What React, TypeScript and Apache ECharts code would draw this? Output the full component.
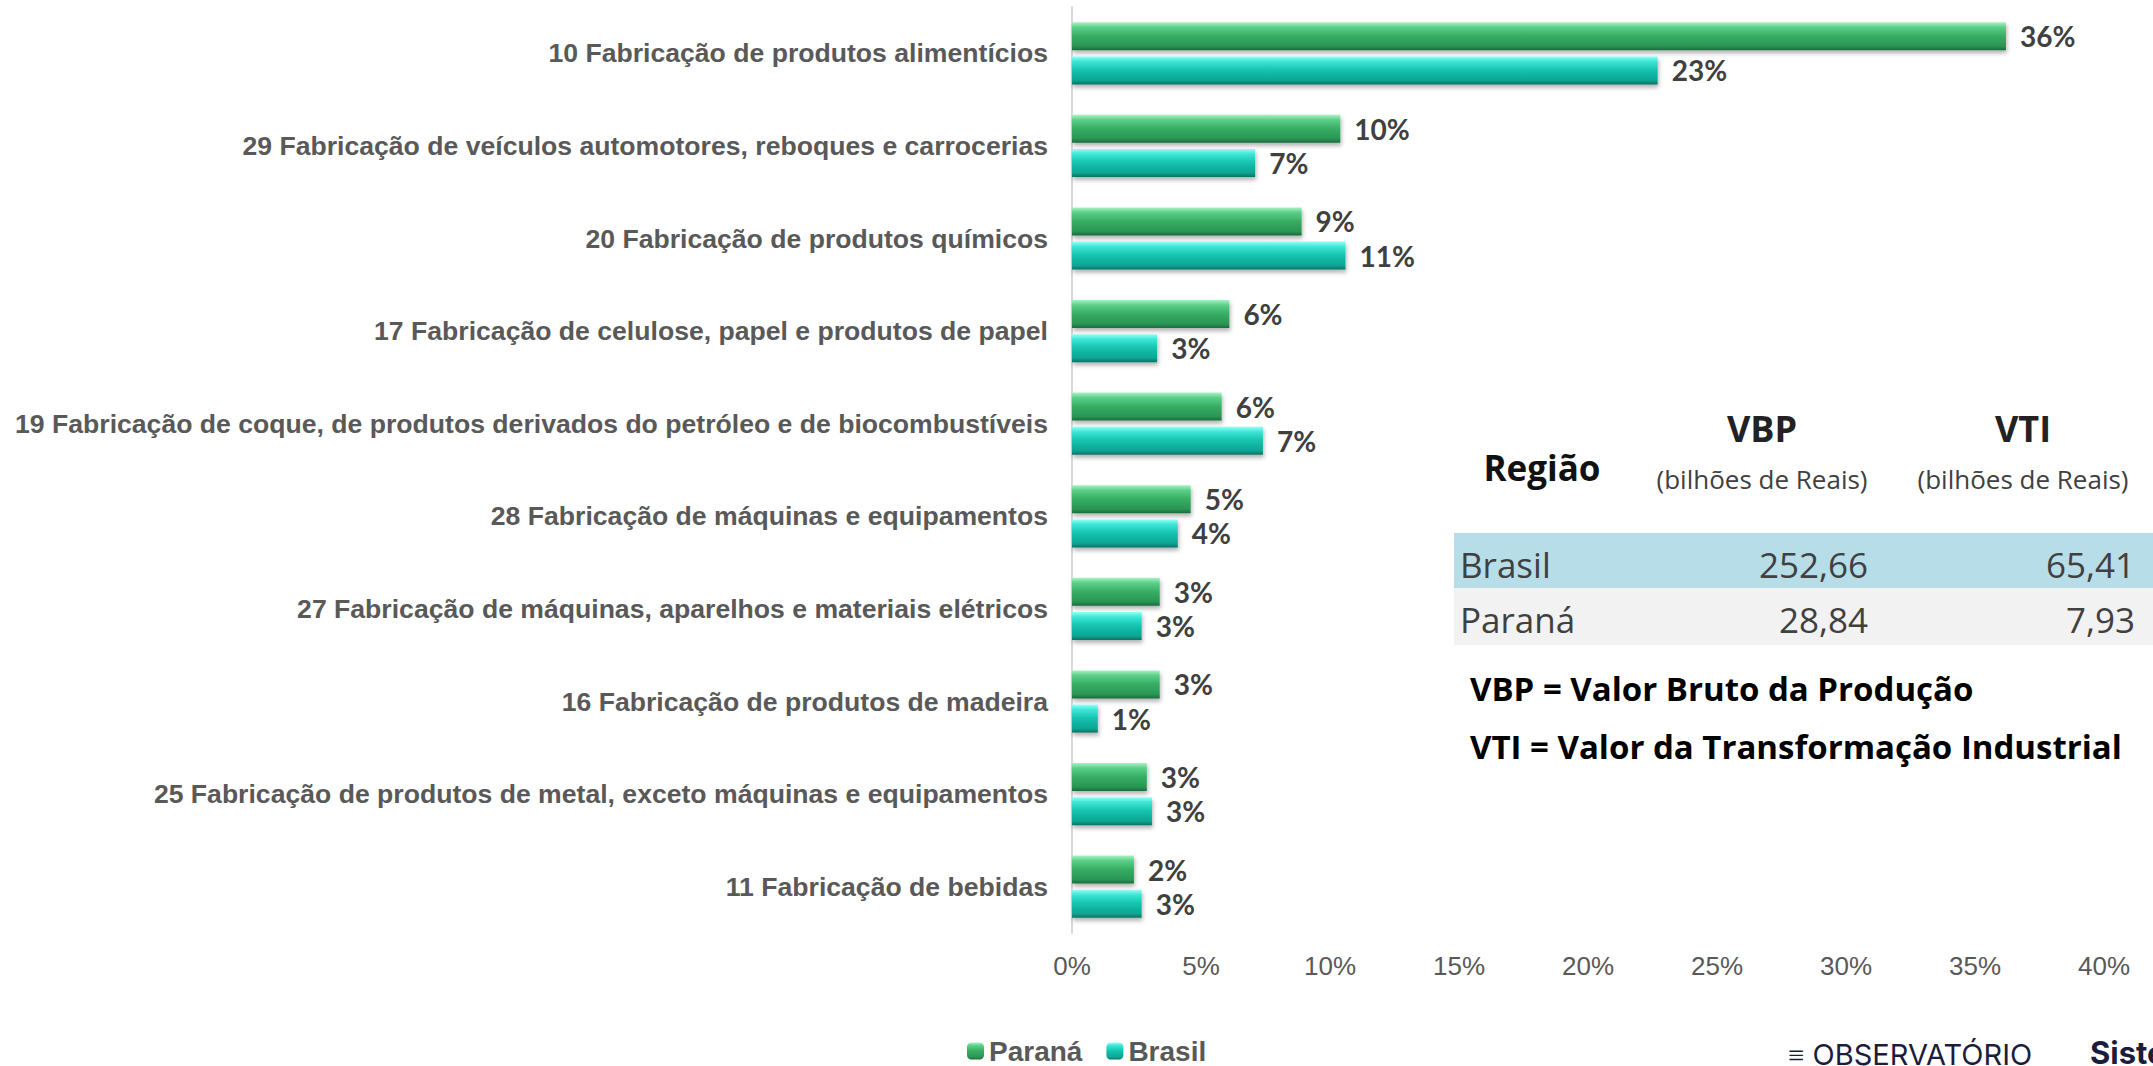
import React, { useEffect, useRef } from "react";
import * as echarts from "echarts";

const categories = [
  "10 Fabricação de produtos alimentícios",
  "29 Fabricação de veículos automotores, reboques e carrocerias",
  "20 Fabricação de produtos químicos",
  "17 Fabricação de celulose, papel e produtos de papel",
  "19 Fabricação de coque, de produtos derivados do petróleo e de biocombustíveis",
  "28 Fabricação de máquinas e equipamentos",
  "27 Fabricação de máquinas, aparelhos e materiais elétricos",
  "16 Fabricação de produtos de madeira",
  "25 Fabricação de produtos de metal, exceto máquinas e equipamentos",
  "11 Fabricação de bebidas",
];
const parana = [36.2, 10.4, 8.9, 6.1, 5.8, 4.6, 3.4, 3.4, 2.9, 2.4];
const brasil = [22.7, 7.1, 10.6, 3.3, 7.4, 4.1, 2.7, 1.0, 3.1, 2.7];
const xTicks = [0, 5, 10, 15, 20, 25, 30, 35, 40];

const tableHeader = ["Região", "VBP", "VTI"];
const tableSub = "(bilhões de Reais)";
const tableRegions = ["Brasil", "Paraná"];
const tableVbp = ["252,66", "28,84"];
const tableVti = ["65,41", "7,93"];
const definitions = [
  "VBP = Valor Bruto da Produção",
  "VTI = Valor da Transformação Industrial",
];

const greenGrad = new echarts.graphic.LinearGradient(0, 0, 0, 1, [
  { offset: 0, color: "#a8f2c4" },
  { offset: 0.18, color: "#5ccf88" },
  { offset: 0.5, color: "#36ad63" },
  { offset: 0.85, color: "#2a9655" },
  { offset: 1, color: "#1c6a3c" },
]);
const tealGrad = new echarts.graphic.LinearGradient(0, 0, 0, 1, [
  { offset: 0, color: "#93fff7" },
  { offset: 0.18, color: "#3ee6d6" },
  { offset: 0.5, color: "#13c2ae" },
  { offset: 0.85, color: "#0ea693" },
  { offset: 1, color: "#0a7165" },
]);

export default function App() {
  const ref = useRef<HTMLDivElement>(null);
  useEffect(() => {
    document.body.style.margin = "0";
    document.body.style.overflow = "hidden";
    const chart = echarts.init(ref.current!, null, { renderer: "svg" });
    const labelStyle = {
      show: true,
      position: "right",
      distance: 14,
      fontFamily: "Lato",
      fontWeight: "bold",
      fontSize: 28,
      color: "#404040",
      formatter: (p: any) => Math.round(p.value) + "%",
    };
    const barCommon = {
      type: "bar",
      barWidth: 28,
      barGap: "22%",
      label: labelStyle,
    };
    const tf = "Open Sans";
    const graphic: any[] = [
      { type: "rect", shape: { x: 1454, y: 533, width: 699, height: 55 }, style: { fill: "#b7dde8" } },
      { type: "rect", shape: { x: 1454, y: 588, width: 699, height: 57 }, style: { fill: "#f2f2f2" } },
      { type: "text", x: 1542, y: 467, style: { text: tableHeader[0], font: `bold 35px "${tf}"`, fill: "#111", align: "center", verticalAlign: "middle" } },
      { type: "text", x: 1762, y: 428, style: { text: tableHeader[1], font: `bold 36px "${tf}"`, fill: "#222", align: "center", verticalAlign: "middle" } },
      { type: "text", x: 2023, y: 428, style: { text: tableHeader[2], font: `bold 36px "${tf}"`, fill: "#222", align: "center", verticalAlign: "middle" } },
      { type: "text", x: 1762, y: 479, style: { text: tableSub, font: `26px "${tf}"`, fill: "#404040", align: "center", verticalAlign: "middle" } },
      { type: "text", x: 2023, y: 479, style: { text: tableSub, font: `26px "${tf}"`, fill: "#404040", align: "center", verticalAlign: "middle" } },
    ];
    const rowY = [564, 619];
    tableRegions.forEach((r, i) => {
      graphic.push({ type: "text", x: 1460, y: rowY[i], style: { text: r, font: `35px "${tf}"`, fill: "#404040", align: "left", verticalAlign: "middle" } });
      graphic.push({ type: "text", x: 1868, y: rowY[i], style: { text: tableVbp[i], font: `35px "${tf}"`, fill: "#404040", align: "right", verticalAlign: "middle" } });
      graphic.push({ type: "text", x: 2135, y: rowY[i], style: { text: tableVti[i], font: `35px "${tf}"`, fill: "#404040", align: "right", verticalAlign: "middle" } });
    });
    const defY = [688, 746];
    definitions.forEach((d, i) => {
      graphic.push({ type: "text", x: 1470, y: defY[i], style: { text: d, font: `bold 33px "Open Sans"`, fill: "#000", align: "left", verticalAlign: "middle" } });
    });
    graphic.push({ type: "text", x: 1788, y: 1040, style: { text: "≡ OBSERVATÓRIO", font: `29px "Inter"`, fill: "#1c1c3c", align: "left", verticalAlign: "top" } });
    graphic.push({ type: "text", x: 2090, y: 1037, style: { text: "Sistema", font: `bold 31px "Inter"`, fill: "#1c1c3c", align: "left", verticalAlign: "top" } });

    chart.setOption({
      animation: false,
      backgroundColor: "#ffffff",
      grid: { left: 1072, right: 49, top: 7, bottom: 133, containLabel: false },
      legend: {
        data: ["Paraná", "Brasil"],
        left: 962,
        top: 1032,
        itemWidth: 17,
        itemHeight: 17,
        itemGap: 24,
        textStyle: { fontFamily: "Liberation Sans", fontWeight: "bold", fontSize: 28, color: "#595959" },
      },
      xAxis: {
        type: "value",
        min: xTicks[0],
        max: xTicks[xTicks.length - 1],
        interval: 5,
        splitLine: { show: false },
        axisLine: { show: false },
        axisTick: { show: false },
        axisLabel: {
          formatter: (v: number) => v + "%",
          fontFamily: "Liberation Sans",
          fontSize: 26,
          color: "#595959",
          margin: 20,
        },
      },
      yAxis: {
        type: "category",
        data: categories,
        inverse: true,
        axisLine: { show: true, lineStyle: { color: "#d9d9d9", width: 2 } },
        axisTick: { show: false },
        axisLabel: {
          fontFamily: "Liberation Sans",
          fontWeight: "bold",
          fontSize: 26.6,
          color: "#595959",
          margin: 24,
        },
      },
      series: [
        {
          ...barCommon,
          name: "Paraná",
          data: parana,
          itemStyle: { color: greenGrad, shadowColor: "rgba(0,0,0,0.3)", shadowBlur: 4, shadowOffsetY: 3, shadowOffsetX: 1 },
        },
        {
          ...barCommon,
          name: "Brasil",
          data: brasil,
          itemStyle: { color: tealGrad, shadowColor: "rgba(0,0,0,0.3)", shadowBlur: 4, shadowOffsetY: 3, shadowOffsetX: 1 },
        },
      ],
      graphic,
    });
    return () => chart.dispose();
  }, []);
  return (
    <div
      ref={ref}
      style={{ position: "absolute", left: 0, top: 0, width: 2153, height: 1066 }}
    />
  );
}
